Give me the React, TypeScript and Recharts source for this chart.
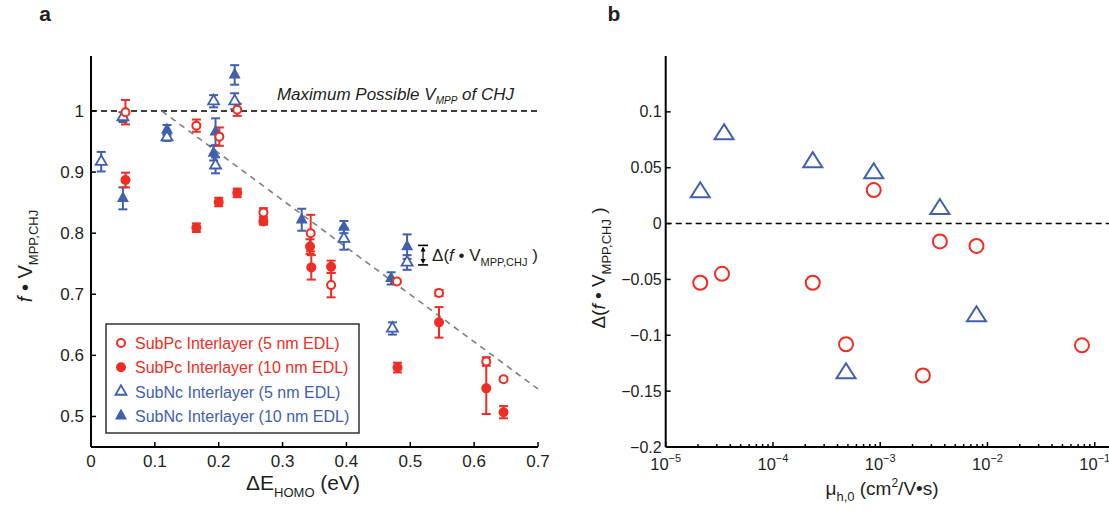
import React from 'react';
import { ComposedChart, Scatter, XAxis, YAxis, ErrorBar, ReferenceLine } from 'recharts';

const RED = '#EE2D24';
const BLUE = '#4060AE';
const INK = '#231F20';
const FONT = '"Liberation Sans", Arial, Helvetica, sans-serif';

// ---------- Panel a data ----------
const aXTicks = [0, 0.1, 0.2, 0.3, 0.4, 0.5, 0.6, 0.7];
const aYTicks = [0.5, 0.6, 0.7, 0.8, 0.9, 1];

const pc5X = [0.054, 0.165, 0.201, 0.229, 0.270, 0.344, 0.376, 0.479, 0.545, 0.619, 0.646];
const pc5Y = [0.998, 0.976, 0.958, 1.002, 0.834, 0.800, 0.715, 0.721, 0.702, 0.590, 0.561];
const pc5Err = [0.020, 0.010, 0.015, 0.010, 0.007, 0.030, 0.020, 0.003, 0.005, 0.007, 0.003];

const pc10X = [0.054, 0.165, 0.200, 0.229, 0.270, 0.343, 0.345, 0.376, 0.480, 0.545, 0.619, 0.646];
const pc10Y = [0.887, 0.809, 0.851, 0.866, 0.819, 0.778, 0.744, 0.745, 0.580, 0.654, 0.546, 0.507];
const pc10Err = [0.012, 0.007, 0.007, 0.007, 0.005, 0.012, 0.020, 0.010, 0.008, 0.025, 0.042, 0.010];

const nc5X = [0.016, 0.050, 0.119, 0.192, 0.195, 0.225, 0.396, 0.472, 0.495];
const nc5Y = [0.917, 0.990, 0.957, 1.016, 0.911, 1.016, 0.791, 0.644, 0.752];
const nc5Err = [0.016, 0.008, 0.006, 0.010, 0.013, 0.013, 0.018, 0.010, 0.012];

const nc10X = [0.050, 0.119, 0.192, 0.195, 0.225, 0.330, 0.396, 0.470, 0.495];
const nc10Y = [0.857, 0.969, 0.931, 0.966, 1.059, 0.822, 0.810, 0.726, 0.778];
const nc10Err = [0.018, 0.008, 0.012, 0.022, 0.016, 0.018, 0.010, 0.010, 0.020];

const fitLine = [{ x: 0.111, y: 1.0 }, { x: 0.7, y: 0.545 }];
const deltaBar = [{ x: 0.52, y: 0.780 }, { x: 0.52, y: 0.748 }];
const maxVmpp = 1;

// ---------- Panel b data ----------
const bXMajor = [1e-5, 1e-4, 1e-3, 1e-2, 1e-1];
const bXMinorMult = [2, 3, 4, 5, 6, 7, 8, 9];
const bYTicks = [-0.2, -0.15, -0.1, -0.05, 0, 0.05, 0.1];

const ncMu = [2.1e-5, 3.5e-5, 2.35e-4, 8.7e-4, 3.6e-3, 4.8e-4, 7.9e-3];
const ncDelta = [0.028, 0.080, 0.055, 0.045, 0.013, -0.134, -0.083];

const pcMu = [8.7e-4, 3.6e-3, 7.9e-3, 2.1e-5, 3.35e-5, 2.35e-4, 4.8e-4, 2.5e-3, 7.6e-2];
const pcDelta = [0.030, -0.016, -0.020, -0.053, -0.045, -0.053, -0.108, -0.136, -0.109];

// ---------- helpers ----------
const build = (xs: number[], ys: number[], es?: number[]) =>
  xs.map((x, i) => ({ x, y: ys[i], e: es ? es[i] : 0 }));

const pc5 = build(pc5X, pc5Y, pc5Err);
const pc10 = build(pc10X, pc10Y, pc10Err);
const nc5 = build(nc5X, nc5Y, nc5Err);
const nc10 = build(nc10X, nc10Y, nc10Err);
const ncB = build(ncMu, ncDelta);
const pcB = build(pcMu, pcDelta);

const bXTicks: number[] = [];
bXMajor.forEach((m, i) => {
  bXTicks.push(m);
  if (i < bXMajor.length - 1) bXMinorMult.forEach((k) => bXTicks.push(m * k));
});

const triPts = (cx: number, cy: number, w: number, h: number) =>
  `${cx},${cy - (2 * h) / 3} ${cx - w / 2},${cy + h / 3} ${cx + w / 2},${cy + h / 3}`;

const openCircle = (r: number, sw: number) => (p: any) =>
  <circle cx={p.cx} cy={p.cy} r={r} fill="#fff" stroke={RED} strokeWidth={sw} />;
const fillCircle = (r: number) => (p: any) =>
  <circle cx={p.cx} cy={p.cy} r={r} fill={RED} stroke="none" />;
const openTri = (w: number, h: number, sw: number) => (p: any) =>
  <polygon points={triPts(p.cx, p.cy, w, h)} fill="#fff" stroke={BLUE} strokeWidth={sw} strokeLinejoin="miter" />;
const fillTri = (w: number, h: number) => (p: any) =>
  <polygon points={triPts(p.cx, p.cy, w, h)} fill={BLUE} stroke="none" />;

const fmtA = (v: number) => String(Math.round(v * 10) / 10);
const fmtB = (v: number) => {
  const r = Math.round(v * 100) / 100;
  return r < 0 ? '\u2212' + String(-r) : String(r);
};

const BottomTickA = (p: any) => (
  <g>
    <line x1={p.x} x2={p.x} y1={p.y} y2={p.y - 5} stroke="#000" strokeWidth={1.5} />
    <text x={p.x} y={p.y + 20} textAnchor="middle" fontSize={17} fontFamily={FONT} fill={INK}>
      {fmtA(p.payload.value)}
    </text>
  </g>
);
const TopTickA = (p: any) => (
  <line x1={p.x} x2={p.x} y1={p.y} y2={p.y + 5} stroke="#000" strokeWidth={1.5} />
);
const LeftTickA = (p: any) => (
  <g>
    <line x1={p.x} x2={p.x + 5} y1={p.y} y2={p.y} stroke="#000" strokeWidth={1.5} />
    <text x={p.x - 7} y={p.y + 6} textAnchor="end" fontSize={17} fontFamily={FONT} fill={INK}>
      {fmtA(p.payload.value)}
    </text>
  </g>
);
const RightTickA = (p: any) => (
  <line x1={p.x} x2={p.x - 5} y1={p.y} y2={p.y} stroke="#000" strokeWidth={1.5} />
);

const isMajor = (v: number) => Math.abs(Math.log10(v) - Math.round(Math.log10(v))) < 1e-6;

const BottomTickB = (p: any) => {
  const v = p.payload.value;
  const major = isMajor(v);
  return (
    <g>
      <line x1={p.x} x2={p.x} y1={p.y} y2={p.y - (major ? 5 : 3)} stroke="#000" strokeWidth={1.5} />
      {major && (
        <text x={p.x} y={p.y + 23} textAnchor="middle" fontSize={16.5} fontFamily={FONT} fill={INK}>
          10<tspan dy={-8} fontSize={11}>{'\u2212' + String(-Math.round(Math.log10(v)))}</tspan>
        </text>
      )}
    </g>
  );
};
const TopTickB = (p: any) => {
  const major = isMajor(p.payload.value);
  return <line x1={p.x} x2={p.x} y1={p.y} y2={p.y + (major ? 5 : 3)} stroke="#000" strokeWidth={1.5} />;
};
const LeftTickB = (p: any) => (
  <g>
    <line x1={p.x} x2={p.x + 5} y1={p.y} y2={p.y} stroke="#000" strokeWidth={1.5} />
    <text x={p.x - 4} y={p.y + 5.5} textAnchor="end" fontSize={16} fontFamily={FONT} fill={INK}>
      {fmtB(p.payload.value)}
    </text>
  </g>
);

const axisLine = { stroke: '#000', strokeWidth: 2 };

const DeltaShape = (p: any) => {
  const x = p.x1;
  const yt = Math.min(p.y1, p.y2);
  const yb = Math.max(p.y1, p.y2);
  return (
    <g>
      <line x1={x - 5} x2={x + 5} y1={yt} y2={yt} stroke="#000" strokeWidth={1.6} />
      <line x1={x - 5} x2={x + 5} y1={yb} y2={yb} stroke="#000" strokeWidth={1.6} />
      <line x1={x} x2={x} y1={yt + 3} y2={yb - 3} stroke="#000" strokeWidth={1.2} />
      <polygon points={`${x},${yt + 1} ${x - 2.5},${yt + 6} ${x + 2.5},${yt + 6}`} fill="#000" />
      <polygon points={`${x},${yb - 1} ${x - 2.5},${yb - 6} ${x + 2.5},${yb - 6}`} fill="#000" />
      <text x={x + 9} y={(yt + yb) / 2 + 6} fontSize={17} fontFamily={FONT} fill={INK}>
        Δ(<tspan fontStyle="italic">f</tspan>{' \u2022 V'}
        <tspan dy={5} fontSize={11}>MPP,CHJ</tspan>
        <tspan dy={-5}>{' )'}</tspan>
      </text>
    </g>
  );
};

const MaxLabel = (p: any) => {
  const vb = p.viewBox || {};
  const xr = vb.x + vb.width - 24;
  const y = vb.y - 11;
  return (
    <text x={xr} y={y} textAnchor="end" fontSize={17} fontStyle="italic" fontFamily={FONT} fill={INK}>
      Maximum Possible V<tspan dy={4} fontSize={10}>MPP</tspan>
      <tspan dy={-4}> of CHJ</tspan>
    </text>
  );
};

const PanelA = () => (
  <ComposedChart width={560} height={511} margin={{ top: 56, right: 22, left: 51, bottom: 34 }}>
    <XAxis xAxisId="x" dataKey="x" type="number" domain={[0, 0.7]} ticks={aXTicks} interval={0}
      allowDataOverflow orientation="bottom" height={30} tickSize={0} tickMargin={0}
      axisLine={axisLine} tickLine={false} tick={<BottomTickA />} />
    <XAxis xAxisId="xt" type="number" domain={[0, 0.7]} ticks={aXTicks} interval={0}
      allowDataOverflow orientation="top" height={0} tickSize={0} tickMargin={0}
      axisLine={axisLine} tickLine={false} tick={<TopTickA />} />
    <YAxis yAxisId="y" dataKey="y" type="number" domain={[0.45, 1.09]} ticks={aYTicks} interval={0}
      allowDataOverflow orientation="left" width={40} tickSize={0} tickMargin={0}
      axisLine={axisLine} tickLine={false} tick={<LeftTickA />} />
    <YAxis yAxisId="yr" type="number" domain={[0.45, 1.09]} ticks={aYTicks} interval={0}
      allowDataOverflow orientation="right" width={0} tickSize={0} tickMargin={0}
      axisLine={axisLine} tickLine={false} tick={<RightTickA />} />
    <ReferenceLine xAxisId="x" yAxisId="y" y={maxVmpp} stroke="#000" strokeWidth={1.5}
      strokeDasharray="6 4" label={<MaxLabel />} />
    <ReferenceLine xAxisId="x" yAxisId="y" segment={fitLine} stroke="#808080" strokeWidth={1.6}
      strokeDasharray="6 5" />
    <ReferenceLine xAxisId="x" yAxisId="y" segment={deltaBar} shape={DeltaShape} />
    <Scatter xAxisId="x" yAxisId="y" data={nc5} dataKey="y" isAnimationActive={false} shape={openTri(11, 9.5, 1.8)}>
      <ErrorBar dataKey="e" direction="y" width={4.5} stroke={BLUE} strokeWidth={2} />
    </Scatter>
    <Scatter xAxisId="x" yAxisId="y" data={nc10} dataKey="y" isAnimationActive={false} shape={fillTri(12, 11)}>
      <ErrorBar dataKey="e" direction="y" width={4.5} stroke={BLUE} strokeWidth={2} />
    </Scatter>
    <Scatter xAxisId="x" yAxisId="y" data={pc5} dataKey="y" isAnimationActive={false} shape={openCircle(4, 2)}>
      <ErrorBar dataKey="e" direction="y" width={4.5} stroke={RED} strokeWidth={2} />
    </Scatter>
    <Scatter xAxisId="x" yAxisId="y" data={pc10} dataKey="y" isAnimationActive={false} shape={fillCircle(5)}>
      <ErrorBar dataKey="e" direction="y" width={4.5} stroke={RED} strokeWidth={2} />
    </Scatter>
  </ComposedChart>
);

const PanelB = () => (
  <ComposedChart width={570} height={511} margin={{ top: 56, right: 15, left: 60.7, bottom: 34 }}>
    <XAxis xAxisId="x" dataKey="x" type="number" scale="log" domain={[1e-5, 0.1545]} ticks={bXTicks}
      interval={0} allowDataOverflow orientation="bottom" height={30} tickSize={0} tickMargin={0}
      axisLine={axisLine} tickLine={false} tick={<BottomTickB />} />
    <XAxis xAxisId="xt" type="number" scale="log" domain={[1e-5, 0.1545]} ticks={bXTicks}
      interval={0} allowDataOverflow orientation="top" height={0} tickSize={0} tickMargin={0}
      axisLine={axisLine} tickLine={false} tick={<TopTickB />} />
    <YAxis yAxisId="y" dataKey="y" type="number" domain={[-0.2, 0.15]} ticks={bYTicks} interval={0}
      allowDataOverflow orientation="left" width={45} tickSize={0} tickMargin={0}
      axisLine={axisLine} tickLine={false} tick={<LeftTickB />} />
    <ReferenceLine xAxisId="x" yAxisId="y" y={0} stroke="#000" strokeWidth={1.5} strokeDasharray="6 4" />
    <Scatter xAxisId="x" yAxisId="y" data={ncB} dataKey="y" isAnimationActive={false} shape={openTri(19, 15, 2)} />
    <Scatter xAxisId="x" yAxisId="y" data={pcB} dataKey="y" isAnimationActive={false} shape={openCircle(7, 2)} />
  </ComposedChart>
);

const legendItems = [
  { label: 'SubPc Interlayer (5 nm EDL)', color: RED, kind: 'oc' },
  { label: 'SubPc Interlayer (10 nm EDL)', color: RED, kind: 'fc' },
  { label: 'SubNc Interlayer (5 nm EDL)', color: BLUE, kind: 'ot' },
  { label: 'SubNc Interlayer (10 nm EDL)', color: BLUE, kind: 'ft' },
];

const Overlay = () => (
  <svg width={1109} height={511} style={{ position: 'absolute', left: 0, top: 0, pointerEvents: 'none' }}>
    <text x={45} y={21} textAnchor="middle" fontSize={21} fontWeight="bold" fontFamily={FONT} fill={INK}>a</text>
    <text x={614} y={21} textAnchor="middle" fontSize={21} fontWeight="bold" fontFamily={FONT} fill={INK}>b</text>

    {/* legend */}
    <rect x={106} y={324} width={253} height={109} fill="#fff" stroke="#333" strokeWidth={1.5} />
    {legendItems.map((it, i) => {
      const cy = 343 + i * 24.3;
      const cx = 121;
      let sym;
      if (it.kind === 'oc') sym = <circle cx={cx} cy={cy} r={4} fill="#fff" stroke={it.color} strokeWidth={2} />;
      else if (it.kind === 'fc') sym = <circle cx={cx} cy={cy} r={5} fill={it.color} />;
      else if (it.kind === 'ot') sym = <polygon points={triPts(cx, cy, 11, 9.5)} fill="#fff" stroke={it.color} strokeWidth={1.8} />;
      else sym = <polygon points={triPts(cx, cy, 12, 11)} fill={it.color} />;
      return (
        <g key={i}>
          {sym}
          <text x={135} y={cy + 6} fontSize={16} fontFamily={FONT} fill={it.color}>{it.label}</text>
        </g>
      );
    })}

    {/* panel a axis titles */}
    <text x={246} y={490} fontSize={21} fontFamily={FONT} fill={INK}>
      ΔE<tspan dy={7} fontSize={13}>HOMO</tspan><tspan dy={-7}> (eV)</tspan>
    </text>
    <g transform="translate(32,256) rotate(-90)">
      <text x={0} y={0} textAnchor="middle" fontSize={20} fontFamily={FONT} fill={INK}>
        <tspan fontStyle="italic">f</tspan>{' \u2022 V'}<tspan dy={6} fontSize={13}>MPP,CHJ</tspan>
      </text>
    </g>

    {/* panel b axis titles */}
    <text x={882} y={495} textAnchor="middle" fontSize={19} fontFamily={FONT} fill={INK}>
      μ<tspan dy={6} fontSize={13}>h,0</tspan><tspan dy={-6}> (cm</tspan><tspan dy={-8} fontSize={12}>2</tspan><tspan dy={8}>/V•s)</tspan>
    </text>
    <g transform="translate(605,268) rotate(-90)">
      <text x={0} y={0} textAnchor="middle" fontSize={19} fontFamily={FONT} fill={INK}>
        Δ(<tspan fontStyle="italic">f</tspan>{' \u2022 V'}<tspan dy={6} fontSize={13}>MPP,CHJ</tspan><tspan dy={-6}>{' )'}</tspan>
      </text>
    </g>
  </svg>
);

export default function App() {
  return (
    <div style={{ position: 'absolute', left: 0, top: 0, width: 1109, height: 511, overflow: 'hidden', background: '#fff', fontFamily: FONT }}>
      <div style={{ position: 'absolute', left: 0, top: 0 }}>
        <PanelA />
      </div>
      <div style={{ position: 'absolute', left: 560, top: 0 }}>
        <PanelB />
      </div>
      <Overlay />
    </div>
  );
}
